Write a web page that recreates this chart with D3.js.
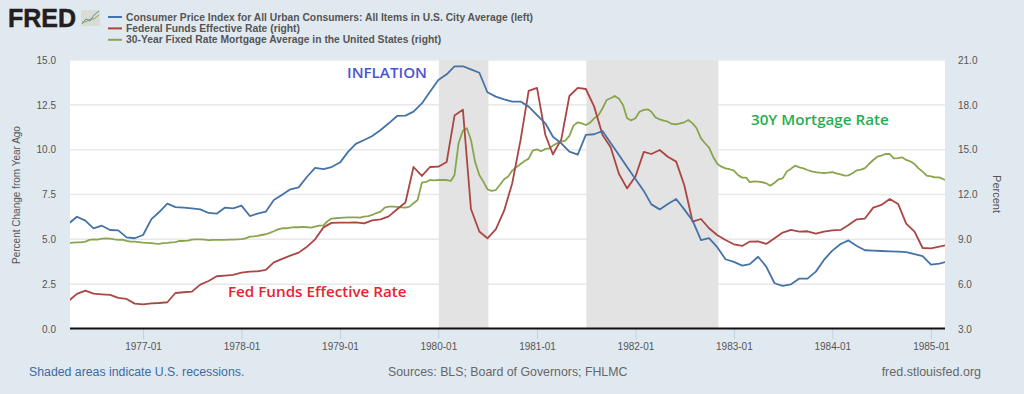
<!DOCTYPE html>
<html>
<head>
<meta charset="utf-8">
<script src="https://cdn.jsdelivr.net/npm/d3@7"></script>
<style>
  html, body { margin: 0; padding: 0; background: #e1e9f0; overflow: hidden; }
  text { font-family: "Liberation Sans", Arial, sans-serif; }
  .tick text { fill: #555; font-size: 10px; }
</style>
</head>
<body>
<div id="chart"></div>
<script>
// monthly values, first one is 1976-04
var cpi = [5.89,6.26,6.04,5.61,5.76,5.52,5.50,5.11,5.06,
  5.24,6.13,6.51,6.99,6.80,6.77,6.73,6.67,6.47,6.43,6.77,6.73,
  6.88,6.30,6.43,6.54,7.19,7.49,7.79,7.90,8.49,8.98,8.92,9.03,
  9.28,9.89,10.32,10.54,10.76,11.10,11.47,11.88,11.90,12.12,12.58,13.23,
  13.88,14.20,14.65,14.65,14.48,14.29,13.20,12.96,12.81,12.68,12.68,12.40,
  11.93,11.47,10.72,10.35,9.89,9.72,10.82,10.86,11.04,10.37,9.70,9.03,
  8.36,7.70,6.95,6.67,6.97,7.25,6.67,6.04,4.96,5.07,4.55,3.89,
  3.74,3.53,3.62,4.03,3.48,2.55,2.40,2.49,2.81,2.81,3.20,3.85,
  4.37,4.74,4.94,4.63,4.39,4.37,4.35,4.33,4.31,4.29,4.18,4.07,
  3.59,3.64,3.76];

var fedFunds = [4.90,5.35,5.57,5.37,5.32,5.28,5.08,5.01,4.70,
  4.65,4.72,4.74,4.79,5.41,5.46,5.50,5.97,6.21,6.53,6.57,6.62,
  6.77,6.84,6.86,6.95,7.46,7.69,7.91,8.11,8.51,9.00,9.80,10.10,
  10.12,10.12,10.14,10.07,10.27,10.34,10.54,11.01,11.46,13.84,13.24,13.84,
  13.86,14.18,17.28,17.68,11.03,9.52,9.07,9.67,10.92,12.75,15.65,18.93,
  19.13,15.98,14.69,15.69,18.59,19.13,19.06,17.88,15.98,15.16,13.37,12.41,
  13.20,14.85,14.71,14.98,14.53,14.20,12.64,10.18,10.36,9.74,9.27,8.96,
  8.67,8.56,8.85,8.87,8.69,9.07,9.45,9.63,9.52,9.54,9.38,9.52,
  9.60,9.63,9.96,10.34,10.39,11.12,11.30,11.70,11.37,10.05,9.52,8.42,
  8.40,8.51,8.62];

// two readings per month (the 1st and the 16th)
var mortgage = [8.76,8.78,8.80,8.80,8.85,8.96,9.00,8.98,9.05,9.07,9.05,9.00,8.96,8.98,8.89,8.85,8.85,8.82,
  8.78,8.76,8.74,8.71,8.69,8.74,8.76,8.80,8.82,8.89,8.89,8.91,8.98,9.00,9.00,8.98,8.94,8.96,8.96,8.96,8.96,8.98,8.98,9.00,
  9.02,9.07,9.18,9.20,9.23,9.29,9.34,9.43,9.54,9.67,9.74,9.74,9.78,9.81,9.81,9.83,9.81,9.78,9.85,9.92,9.94,10.21,10.39,10.41,
  10.43,10.45,10.47,10.47,10.47,10.45,10.52,10.56,10.63,10.76,10.85,11.12,11.19,11.19,11.17,11.14,11.12,11.19,11.41,11.63,12.79,12.84,12.97,12.95,
  12.97,12.97,12.97,12.91,13.31,15.43,16.27,16.43,15.65,14.20,13.31,12.86,12.35,12.24,12.30,12.64,13.02,13.20,13.60,13.82,14.04,14.24,14.40,14.93,
  15.02,14.89,15.05,15.09,15.27,15.43,15.54,15.60,15.92,16.61,16.83,16.76,16.65,16.79,17.10,17.28,17.77,18.32,18.44,18.59,18.41,17.99,17.10,16.96,
  17.10,17.54,17.66,17.70,17.54,17.16,17.03,16.94,16.87,16.72,16.70,16.76,16.83,16.99,16.76,16.43,15.76,15.43,15.14,14.53,14.04,13.86,13.75,13.69,
  13.60,13.31,13.13,13.13,12.82,12.88,12.86,12.82,12.75,12.59,12.79,13.02,13.08,13.53,13.73,13.93,13.82,13.75,13.64,13.55,13.49,13.46,13.44,13.46,
  13.49,13.42,13.35,13.26,13.28,13.42,13.62,13.66,13.77,14.04,14.31,14.53,14.60,14.71,14.71,14.42,14.44,14.49,14.31,14.22,14.04,13.75,13.53,13.26,
  13.22,13.15,13.15,13.02,12.95];

var recessions = [["1980-01-01", "1980-07-01"], ["1981-07-01", "1982-11-01"]];
var leftTicks = [0, 2.5, 5, 7.5, 10, 12.5, 15];
var rightTicks = [3, 6, 9, 12, 15, 18, 21];
var legendLabels = ["Consumer Price Index for All Urban Consumers: All Items in U.S. City Average (left)",
  "Federal Funds Effective Rate (right)",
  "30-Year Fixed Rate Mortgage Average in the United States (right)"];
var lineColors = ["#4572a7", "#aa4643", "#89a54e"];

var parseDay = d3.utcParse("%Y-%m-%d");
var margin = {top: 60, right: 79, bottom: 65, left: 70},
    width = 1024 - margin.left - margin.right,
    height = 394 - margin.top - margin.bottom;

var svg = d3.select("#chart")
  .append("svg")
    .attr("width", 1024)
    .attr("height", 394)
    .style("display", "block");

var plot = svg.append("g")
    .attr("transform", "translate(" + margin.left + "," + margin.top + ")");

plot.append("rect")
    .attr("width", width)
    .attr("height", height)
    .attr("fill", "white");

svg.append("clipPath")
    .attr("id", "plot-clip")
  .append("rect")
    .attr("width", width)
    .attr("height", height);

var x = d3.scaleUtc()
    .domain([parseDay("1976-04-05"), parseDay("1985-02-22")])
    .range([0, width]);
var yLeft = d3.scaleLinear().domain([0, 15]).range([height, 0]);
var yRight = d3.scaleLinear().domain([3, 21]).range([height, 0]);

// dates for the series
function monthDate(i) { return d3.utcMonth.offset(parseDay("1976-04-01"), i); }
function halfMonthDate(i) {
  return d3.utcDay.offset(monthDate(Math.floor(i / 2)), i % 2 ? 15 : 0);
}

// grid lines
plot.selectAll(".grid")
  .data(leftTicks.slice(1))
  .enter()
  .append("line")
    .attr("class", "grid")
    .attr("x1", 0)
    .attr("x2", width)
    .attr("y1", function(d) { return yLeft(d); })
    .attr("y2", function(d) { return yLeft(d); })
    .attr("stroke", "#e8e8e8")
    .attr("stroke-width", 1.5);

// recession bands, these cover the grid
plot.selectAll(".recession")
  .data(recessions)
  .enter()
  .append("rect")
    .attr("class", "recession")
    .attr("x", function(d) { return x(parseDay(d[0])) + 0.5; })
    .attr("width", function(d) { return x(parseDay(d[1])) - x(parseDay(d[0])) + 0.5; })
    .attr("height", height)
    .attr("fill", "#e3e3e3");

// x axis
var xAxis = plot.append("g")
    .attr("transform", "translate(0," + height + ")")
    .call(d3.axisBottom(x)
      .tickValues(d3.utcYear.range(parseDay("1977-01-01"), parseDay("1985-06-01")))
      .tickFormat(d3.utcFormat("%Y-%m"))
      .tickSize(10)
      .tickPadding(4));
xAxis.select(".domain").remove();
xAxis.selectAll(".tick line").attr("stroke", "#c0d0e0");

// y axes
var leftAxis = plot.append("g")
    .call(d3.axisLeft(yLeft).tickValues(leftTicks).tickFormat(d3.format(".1f")).tickSize(0).tickPadding(14));
leftAxis.select(".domain").remove();
var rightAxis = plot.append("g")
    .attr("transform", "translate(" + width + ",0)")
    .call(d3.axisRight(yRight).tickValues(rightTicks).tickFormat(d3.format(".1f")).tickSize(0).tickPadding(13));
rightAxis.select(".domain").remove();

plot.append("line")
    .attr("x1", 0)
    .attr("x2", width)
    .attr("y1", height - 0.5)
    .attr("y2", height - 0.5)
    .attr("stroke", "#111")
    .attr("stroke-width", 2);

// the lines
var lineCpi = d3.line()
    .x(function(d, i) { return x(monthDate(i)); })
    .y(function(d) { return yLeft(d); });
var lineFed = d3.line()
    .x(function(d, i) { return x(monthDate(i)); })
    .y(function(d) { return yRight(d); });
var lineMortgage = d3.line()
    .x(function(d, i) { return x(halfMonthDate(i)); })
    .y(function(d) { return yRight(d); });

var lines = plot.append("g").attr("clip-path", "url(#plot-clip)");
[[mortgage, lineMortgage, 2], [fedFunds, lineFed, 1], [cpi, lineCpi, 0]].forEach(function(s) {
  lines.append("path")
      .datum(s[0])
      .attr("fill", "none")
      .attr("stroke", lineColors[s[2]])
      .attr("stroke-width", 1.8)
      .attr("stroke-linejoin", "round")
      .attr("d", s[1]);
});

// axis titles
svg.append("text")
    .attr("transform", "translate(20,195) rotate(-90)")
    .attr("text-anchor", "middle")
    .attr("font-size", 10)
    .attr("fill", "#555")
    .text("Percent Change from Year Ago");
svg.append("text")
    .attr("transform", "translate(993,194) rotate(90)")
    .attr("text-anchor", "middle")
    .attr("font-size", 11)
    .attr("fill", "#555")
    .text("Percent");

// legend
var legend = svg.selectAll(".legend")
  .data(legendLabels)
  .enter()
  .append("g")
    .attr("class", "legend")
    .attr("transform", function(d, i) { return "translate(108," + (17 + i * 11.4) + ")"; });
legend.append("line")
    .attr("x2", 14)
    .attr("stroke-width", 2)
    .attr("stroke", function(d, i) { return lineColors[i]; });
legend.append("text")
    .attr("x", 18)
    .attr("y", 3.5)
    .attr("font-size", 10.3)
    .attr("font-weight", "bold")
    .attr("fill", "#555")
    .text(function(d) { return d; });

// logo
svg.append("text")
    .attr("x", 8)
    .attr("y", 27)
    .attr("font-size", 25)
    .attr("font-weight", "bold")
    .attr("stroke", "#231f20")
    .attr("stroke-width", 0.5)
    .attr("fill", "#231f20")
    .text("FRED");
svg.append("rect")
    .attr("x", 81)
    .attr("y", 10)
    .attr("width", 19)
    .attr("height", 16)
    .attr("rx", 1)
    .attr("fill", "#d8dcd2");
svg.append("path")
    .attr("d", "M82,24L86,19L90,21L94,15L99,11")
    .attr("fill", "none")
    .attr("stroke", "#5b86b5");
svg.append("path")
    .attr("d", "M82,22L86,22L90,19L94,19L99,15")
    .attr("fill", "none")
    .attr("stroke", "#89a54e");

// footer
svg.append("text")
    .attr("x", 29)
    .attr("y", 376)
    .attr("font-size", 12.3)
    .attr("fill", "#3b6ba5")
    .text("Shaded areas indicate U.S. recessions.");
svg.append("text")
    .attr("x", 388)
    .attr("y", 376)
    .attr("font-size", 12.35)
    .attr("fill", "#666")
    .text("Sources: BLS; Board of Governors; FHLMC");
svg.append("text")
    .attr("x", 981)
    .attr("y", 376)
    .attr("text-anchor", "end")
    .attr("font-size", 12.5)
    .attr("fill", "#666")
    .text("fred.stlouisfed.org");

// hand written labels on top of the chart
function note(label, px, py, color) {
  svg.append("text")
      .attr("x", px)
      .attr("y", py)
      .attr("font-size", 15.2)
      .attr("font-weight", 600)
      .style("font-family", "'Open Sans', sans-serif")
      .attr("fill", color)
      .text(label);
}
note("INFLATION", 347, 78, "#4a55d0");
note("Fed Funds Effective Rate", 228, 297, "#ee2030");
note("30Y Mortgage Rate", 751, 125, "#1fb050");
</script>
</body>
</html>
